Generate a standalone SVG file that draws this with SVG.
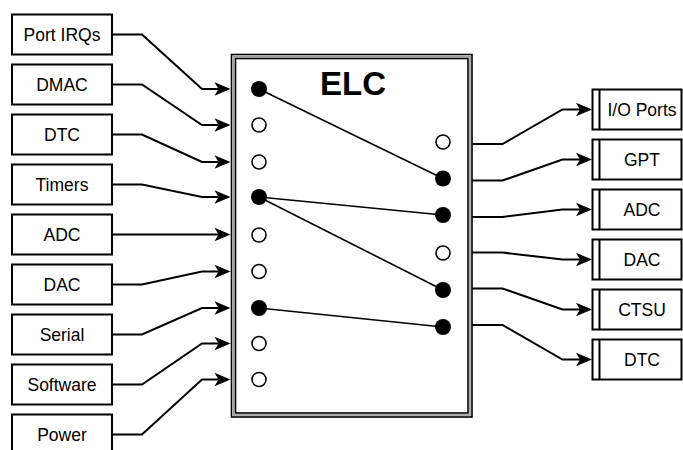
<svg xmlns="http://www.w3.org/2000/svg" width="683" height="450" viewBox="0 0 683 450">
<style>
.box{fill:#fff;stroke:#000;stroke-width:2}
.lbl{font-family:"Liberation Sans",Arial,sans-serif;font-size:17.5px;fill:#000;text-anchor:middle}
.conn{fill:none;stroke:#000;stroke-width:2;marker-end:url(#arr)}
.wire{fill:none;stroke:#000;stroke-width:1.6}
.open{fill:#fff;stroke:#000;stroke-width:1.6}
.on{fill:#000;stroke:none}
</style>
<defs>
<marker id="arr" markerUnits="userSpaceOnUse" markerWidth="18" markerHeight="16" viewBox="0 -8 18 16" refX="4" refY="0" orient="auto" overflow="visible">
<path d="M16,0 L0,-6.7 L4,0 L0,6.7 Z" fill="#000"/>
</marker>
</defs>
<rect width="683" height="450" fill="#fff"/>
<g id="connectors">
<path class="conn" d="M112,34.5 H142 L202,89 H218.5"/>
<path class="conn" d="M112,84.5 H142 L202,125 H218.5"/>
<path class="conn" d="M112,134.5 H142 L202,162 H218.5"/>
<path class="conn" d="M112,184.5 H142 L202,197 H218.5"/>
<path class="conn" d="M112,234.5 H218.5"/>
<path class="conn" d="M112,284.5 H142 L202,271.5 H218.5"/>
<path class="conn" d="M112,334.5 H142 L202,308 H218.5"/>
<path class="conn" d="M112,384.5 H142 L202,343.5 H218.5"/>
<path class="conn" d="M112,434.5 H142 L202,379.5 H218.5"/>
<path class="conn" d="M472,144 H502.5 L562.5,109.5 H580"/>
<path class="conn" d="M472,180.5 H502.5 L562.5,159.5 H580"/>
<path class="conn" d="M472,217 H502.5 L562.5,209.5 H580"/>
<path class="conn" d="M472,252.5 H502.5 L562.5,259.5 H580"/>
<path class="conn" d="M472,288.5 H502.5 L562.5,309.5 H580"/>
<path class="conn" d="M472,325 H502.5 L562.5,359.5 H580"/>
</g>
<g id="src-port-irqs"><rect class="box" x="12" y="14.5" width="100" height="40"/><text class="lbl" x="62" y="40.5">Port IRQs</text></g>
<g id="src-dmac"><rect class="box" x="12" y="64.5" width="100" height="40"/><text class="lbl" x="62" y="90.5">DMAC</text></g>
<g id="src-dtc"><rect class="box" x="12" y="114.5" width="100" height="40"/><text class="lbl" x="62" y="140.5">DTC</text></g>
<g id="src-timers"><rect class="box" x="12" y="164.5" width="100" height="40"/><text class="lbl" x="62" y="190.5">Timers</text></g>
<g id="src-adc"><rect class="box" x="12" y="214.5" width="100" height="40"/><text class="lbl" x="62" y="240.5">ADC</text></g>
<g id="src-dac"><rect class="box" x="12" y="264.5" width="100" height="40"/><text class="lbl" x="62" y="290.5">DAC</text></g>
<g id="src-serial"><rect class="box" x="12" y="314.5" width="100" height="40"/><text class="lbl" x="62" y="340.5">Serial</text></g>
<g id="src-software"><rect class="box" x="12" y="364.5" width="100" height="40"/><text class="lbl" x="62" y="390.5">Software</text></g>
<g id="src-power"><rect class="box" x="12" y="414.5" width="100" height="40"/><text class="lbl" x="62" y="440.5">Power</text></g>
<g id="elc">
<rect x="231.5" y="54.5" width="240.5" height="362.5" fill="#fff" stroke="#000" stroke-width="1.6"/>
<rect x="233.5" y="56.5" width="236.5" height="358.5" fill="none" stroke="#999" stroke-width="1.6"/>
<rect x="235.5" y="58.5" width="232.5" height="354.5" fill="#fff" stroke="#000" stroke-width="1.6"/>
<text x="353" y="94.5" font-family="'Liberation Sans',Arial,sans-serif" font-size="33" font-weight="bold" text-anchor="middle" fill="#000">ELC</text>
<line class="wire" x1="259" y1="89" x2="443" y2="178.5"/>
<line class="wire" x1="259" y1="197" x2="443" y2="215"/>
<line class="wire" x1="259" y1="197" x2="443" y2="290"/>
<line class="wire" x1="259" y1="308" x2="443" y2="327"/>
<circle class="on" cx="259" cy="89" r="8"/>
<circle class="open" cx="259" cy="125" r="7"/>
<circle class="open" cx="259" cy="162" r="7"/>
<circle class="on" cx="259" cy="197" r="8"/>
<circle class="open" cx="259" cy="235" r="7"/>
<circle class="open" cx="259" cy="271.5" r="7"/>
<circle class="on" cx="259" cy="308" r="8"/>
<circle class="open" cx="259" cy="343.5" r="7"/>
<circle class="open" cx="259" cy="379.5" r="7"/>
<circle class="open" cx="443" cy="142" r="7"/>
<circle class="on" cx="443" cy="178.5" r="8"/>
<circle class="on" cx="443" cy="215" r="8"/>
<circle class="open" cx="443" cy="253" r="7"/>
<circle class="on" cx="443" cy="290" r="8"/>
<circle class="on" cx="443" cy="327" r="8"/>
</g>
<g id="dst-io-ports"><rect class="box" x="592.5" y="89.5" width="89" height="40"/><line x1="599.5" y1="89.5" x2="599.5" y2="129.5" stroke="#000" stroke-width="2"/><text class="lbl" x="642" y="115.5">I/O Ports</text></g>
<g id="dst-gpt"><rect class="box" x="592.5" y="139.5" width="89" height="40"/><line x1="599.5" y1="139.5" x2="599.5" y2="179.5" stroke="#000" stroke-width="2"/><text class="lbl" x="642" y="165.5">GPT</text></g>
<g id="dst-adc"><rect class="box" x="592.5" y="189.5" width="89" height="40"/><line x1="599.5" y1="189.5" x2="599.5" y2="229.5" stroke="#000" stroke-width="2"/><text class="lbl" x="642" y="215.5">ADC</text></g>
<g id="dst-dac"><rect class="box" x="592.5" y="239.5" width="89" height="40"/><line x1="599.5" y1="239.5" x2="599.5" y2="279.5" stroke="#000" stroke-width="2"/><text class="lbl" x="642" y="265.5">DAC</text></g>
<g id="dst-ctsu"><rect class="box" x="592.5" y="289.5" width="89" height="40"/><line x1="599.5" y1="289.5" x2="599.5" y2="329.5" stroke="#000" stroke-width="2"/><text class="lbl" x="642" y="315.5">CTSU</text></g>
<g id="dst-dtc"><rect class="box" x="592.5" y="339.5" width="89" height="40"/><line x1="599.5" y1="339.5" x2="599.5" y2="379.5" stroke="#000" stroke-width="2"/><text class="lbl" x="642" y="365.5">DTC</text></g>
</svg>
